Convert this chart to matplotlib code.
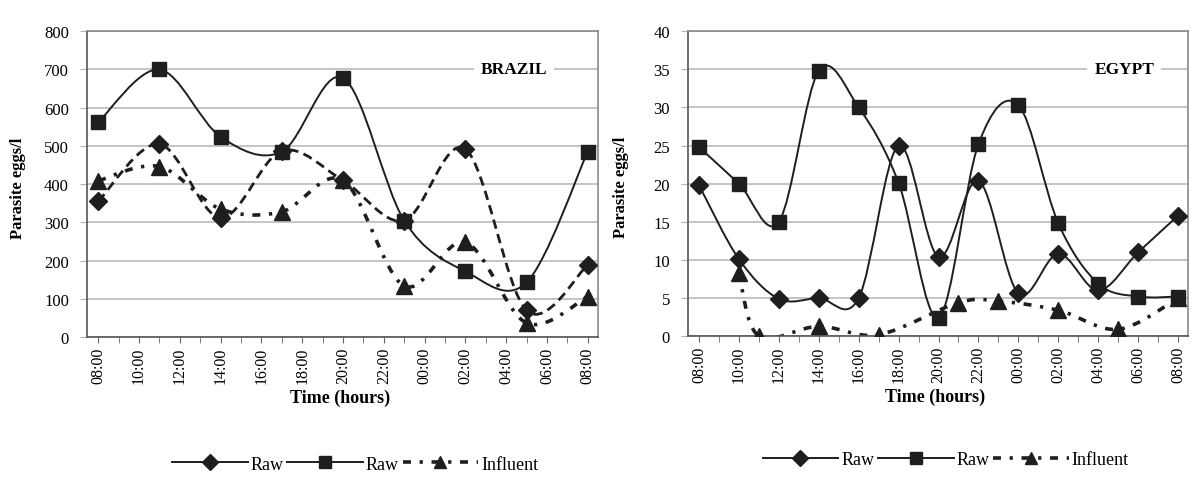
import matplotlib.pyplot as plt
from matplotlib.path import Path
from matplotlib.patches import PathPatch
from matplotlib.lines import Line2D

plt.rcParams['font.family'] = ['Liberation Serif', 'DejaVu Serif']

# hours counted from 08:00 of the first day
tick_hours = [0, 2, 4, 6, 8, 10, 12, 14, 16, 18, 20, 22, 24]
tick_labels = ['08:00', '10:00', '12:00', '14:00', '16:00', '18:00', '20:00',
               '22:00', '00:00', '02:00', '04:00', '06:00', '08:00']
series_labels = ['Raw', 'Raw', 'Influent']

# Brazil, sampled every 3 hours
brazil_hours = [0, 3, 6, 9, 12, 15, 18, 21, 24]
brazil_raw_diamond = [355, 505, 312, 487, 410, 305, 492, 70, 189]
brazil_raw_square = [562, 700, 524, 485, 678, 305, 172, 143, 485]
brazil_influent = [409, 446, 335, 328, 410, 134, 248, 37, 106]

# Egypt, sampled every 2 hours (influent on its own times)
egypt_hours = [0, 2, 4, 6, 8, 10, 12, 14, 16, 18, 20, 22, 24]
egypt_raw_diamond = [19.8, 10.1, 4.9, 5.0, 5.0, 25.0, 10.4, 20.4, 5.6, 10.8, 6.0, 11.0, 15.8]
egypt_raw_square = [24.8, 20.0, 15.0, 34.8, 30.0, 20.1, 2.4, 25.2, 30.3, 14.8, 6.9, 5.2, 5.2]
egypt_influent_hours = [2, 3, 6, 9, 13, 15, 18, 21, 24]
egypt_influent = [8.3, 0.0, 1.3, 0.2, 4.4, 4.6, 3.4, 0.9, 5.0]

ink = '#1e1e1e'
grid_col = '#b4b4b4'


def smooth_line(ax, xs, ys, **kw):
    # excel-like smoothed line, drawn as bezier segments through the points
    pts = list(zip(xs, ys))
    n = len(pts)
    verts = [pts[0]]
    codes = [Path.MOVETO]
    for i in range(n - 1):
        p0 = pts[max(i - 1, 0)]
        p1 = pts[i]
        p2 = pts[i + 1]
        p3 = pts[min(i + 2, n - 1)]
        c1 = (p1[0] + (p2[0] - p0[0]) / 6, p1[1] + (p2[1] - p0[1]) / 6)
        c2 = (p2[0] - (p3[0] - p1[0]) / 6, p2[1] - (p3[1] - p1[1]) / 6)
        verts += [c1, c2, p2]
        codes += [Path.CURVE4] * 3
    ax.add_patch(PathPatch(Path(verts, codes), fill=False, edgecolor=ink,
                           capstyle='butt', zorder=2, **kw))


def setup_axes(ax, ymax, ystep):
    ax.set_xlim(-0.55, 24.5)
    ax.set_ylim(0, ymax)
    ax.set_xticks(tick_hours)
    ax.set_xticklabels(tick_labels, rotation=90, fontsize=11.5)
    ax.set_xticks(range(0, 25), minor=True)
    ax.set_yticks(range(0, ymax + 1, ystep))
    ax.tick_params(axis='y', labelsize=12, length=5, color=grid_col, pad=8)
    ax.tick_params(axis='x', which='both', length=4, color='#666666', pad=3)
    ax.yaxis.grid(True, color=grid_col, lw=1.1)
    ax.set_axisbelow(True)
    for s in ax.spines.values():
        s.set_color('#8a8a8a')
        s.set_linewidth(1.2)
    ax.spines['bottom'].set_color('#555555')
    ax.spines['left'].set_color('#555555')
    ax.text(-0.135, 0.49, 'Parasite eggs/l', transform=ax.transAxes, rotation=90,
            ha='center', va='center', fontsize=12, fontweight='bold')
    ax.text(0.495, -0.197, 'Time (hours)', transform=ax.transAxes,
            ha='center', va='center', fontsize=13, fontweight='bold')


fig = plt.figure(figsize=(11.98, 4.81), dpi=100)
fig.patch.set_facecolor('white')

ax_b = fig.add_axes([0.0726, 0.297, 0.4265, 0.636])
ax_e = fig.add_axes([0.5743, 0.299, 0.4174, 0.634])

dashdot = (0, (2.2, 2.4, 0.9, 2.4))

# Brazil
setup_axes(ax_b, 800, 100)
smooth_line(ax_b, brazil_hours, brazil_raw_square, lw=1.4)
smooth_line(ax_b, brazil_hours, brazil_raw_diamond, lw=2.0, linestyle=(0, (3.4, 2.0)))
smooth_line(ax_b, brazil_hours, brazil_influent, lw=2.6, linestyle=dashdot)
ax_b.plot(brazil_hours, brazil_raw_square, ls='none', marker='s', ms=10, color=ink, zorder=3)
ax_b.plot(brazil_hours, brazil_raw_diamond, ls='none', marker='D', ms=9, color=ink, zorder=3)
ax_b.plot(brazil_hours, brazil_influent, ls='none', marker='^', ms=11, color=ink, zorder=3)
ax_b.text(20.4, 700, 'BRAZIL', ha='center', va='center', fontsize=12.5, fontweight='bold',
          bbox=dict(facecolor='white', edgecolor='none', pad=5))

# Egypt
setup_axes(ax_e, 40, 5)
smooth_line(ax_e, egypt_hours, egypt_raw_square, lw=1.4)
smooth_line(ax_e, egypt_hours, egypt_raw_diamond, lw=1.4)
smooth_line(ax_e, egypt_influent_hours, egypt_influent, lw=2.6, linestyle=dashdot)
ax_e.plot(egypt_hours, egypt_raw_square, ls='none', marker='s', ms=10, color=ink, zorder=3)
ax_e.plot(egypt_hours, egypt_raw_diamond, ls='none', marker='D', ms=9, color=ink, zorder=3)
ax_e.plot(egypt_influent_hours, egypt_influent, ls='none', marker='^', ms=11, color=ink, zorder=3)
ax_e.text(21.3, 35, 'EGYPT', ha='center', va='center', fontsize=12.5, fontweight='bold',
          bbox=dict(facecolor='white', edgecolor='none', pad=5))

handles = [
    Line2D([], [], color=ink, lw=1.4, marker='D', ms=8),
    Line2D([], [], color=ink, lw=1.4, marker='s', ms=9),
    Line2D([], [], color=ink, lw=2.6, marker='^', ms=9, linestyle=dashdot),
]
for ax, cx, cy in [(ax_b, 0.525, -0.415), (ax_e, 0.515, -0.405)]:
    ax.legend(handles, series_labels, loc='center', bbox_to_anchor=(cx, cy), ncol=3,
              frameon=False, fontsize=13, handlelength=4.2, handletextpad=0.15,
              columnspacing=0.2)

fig.savefig('out.png', dpi=100)
